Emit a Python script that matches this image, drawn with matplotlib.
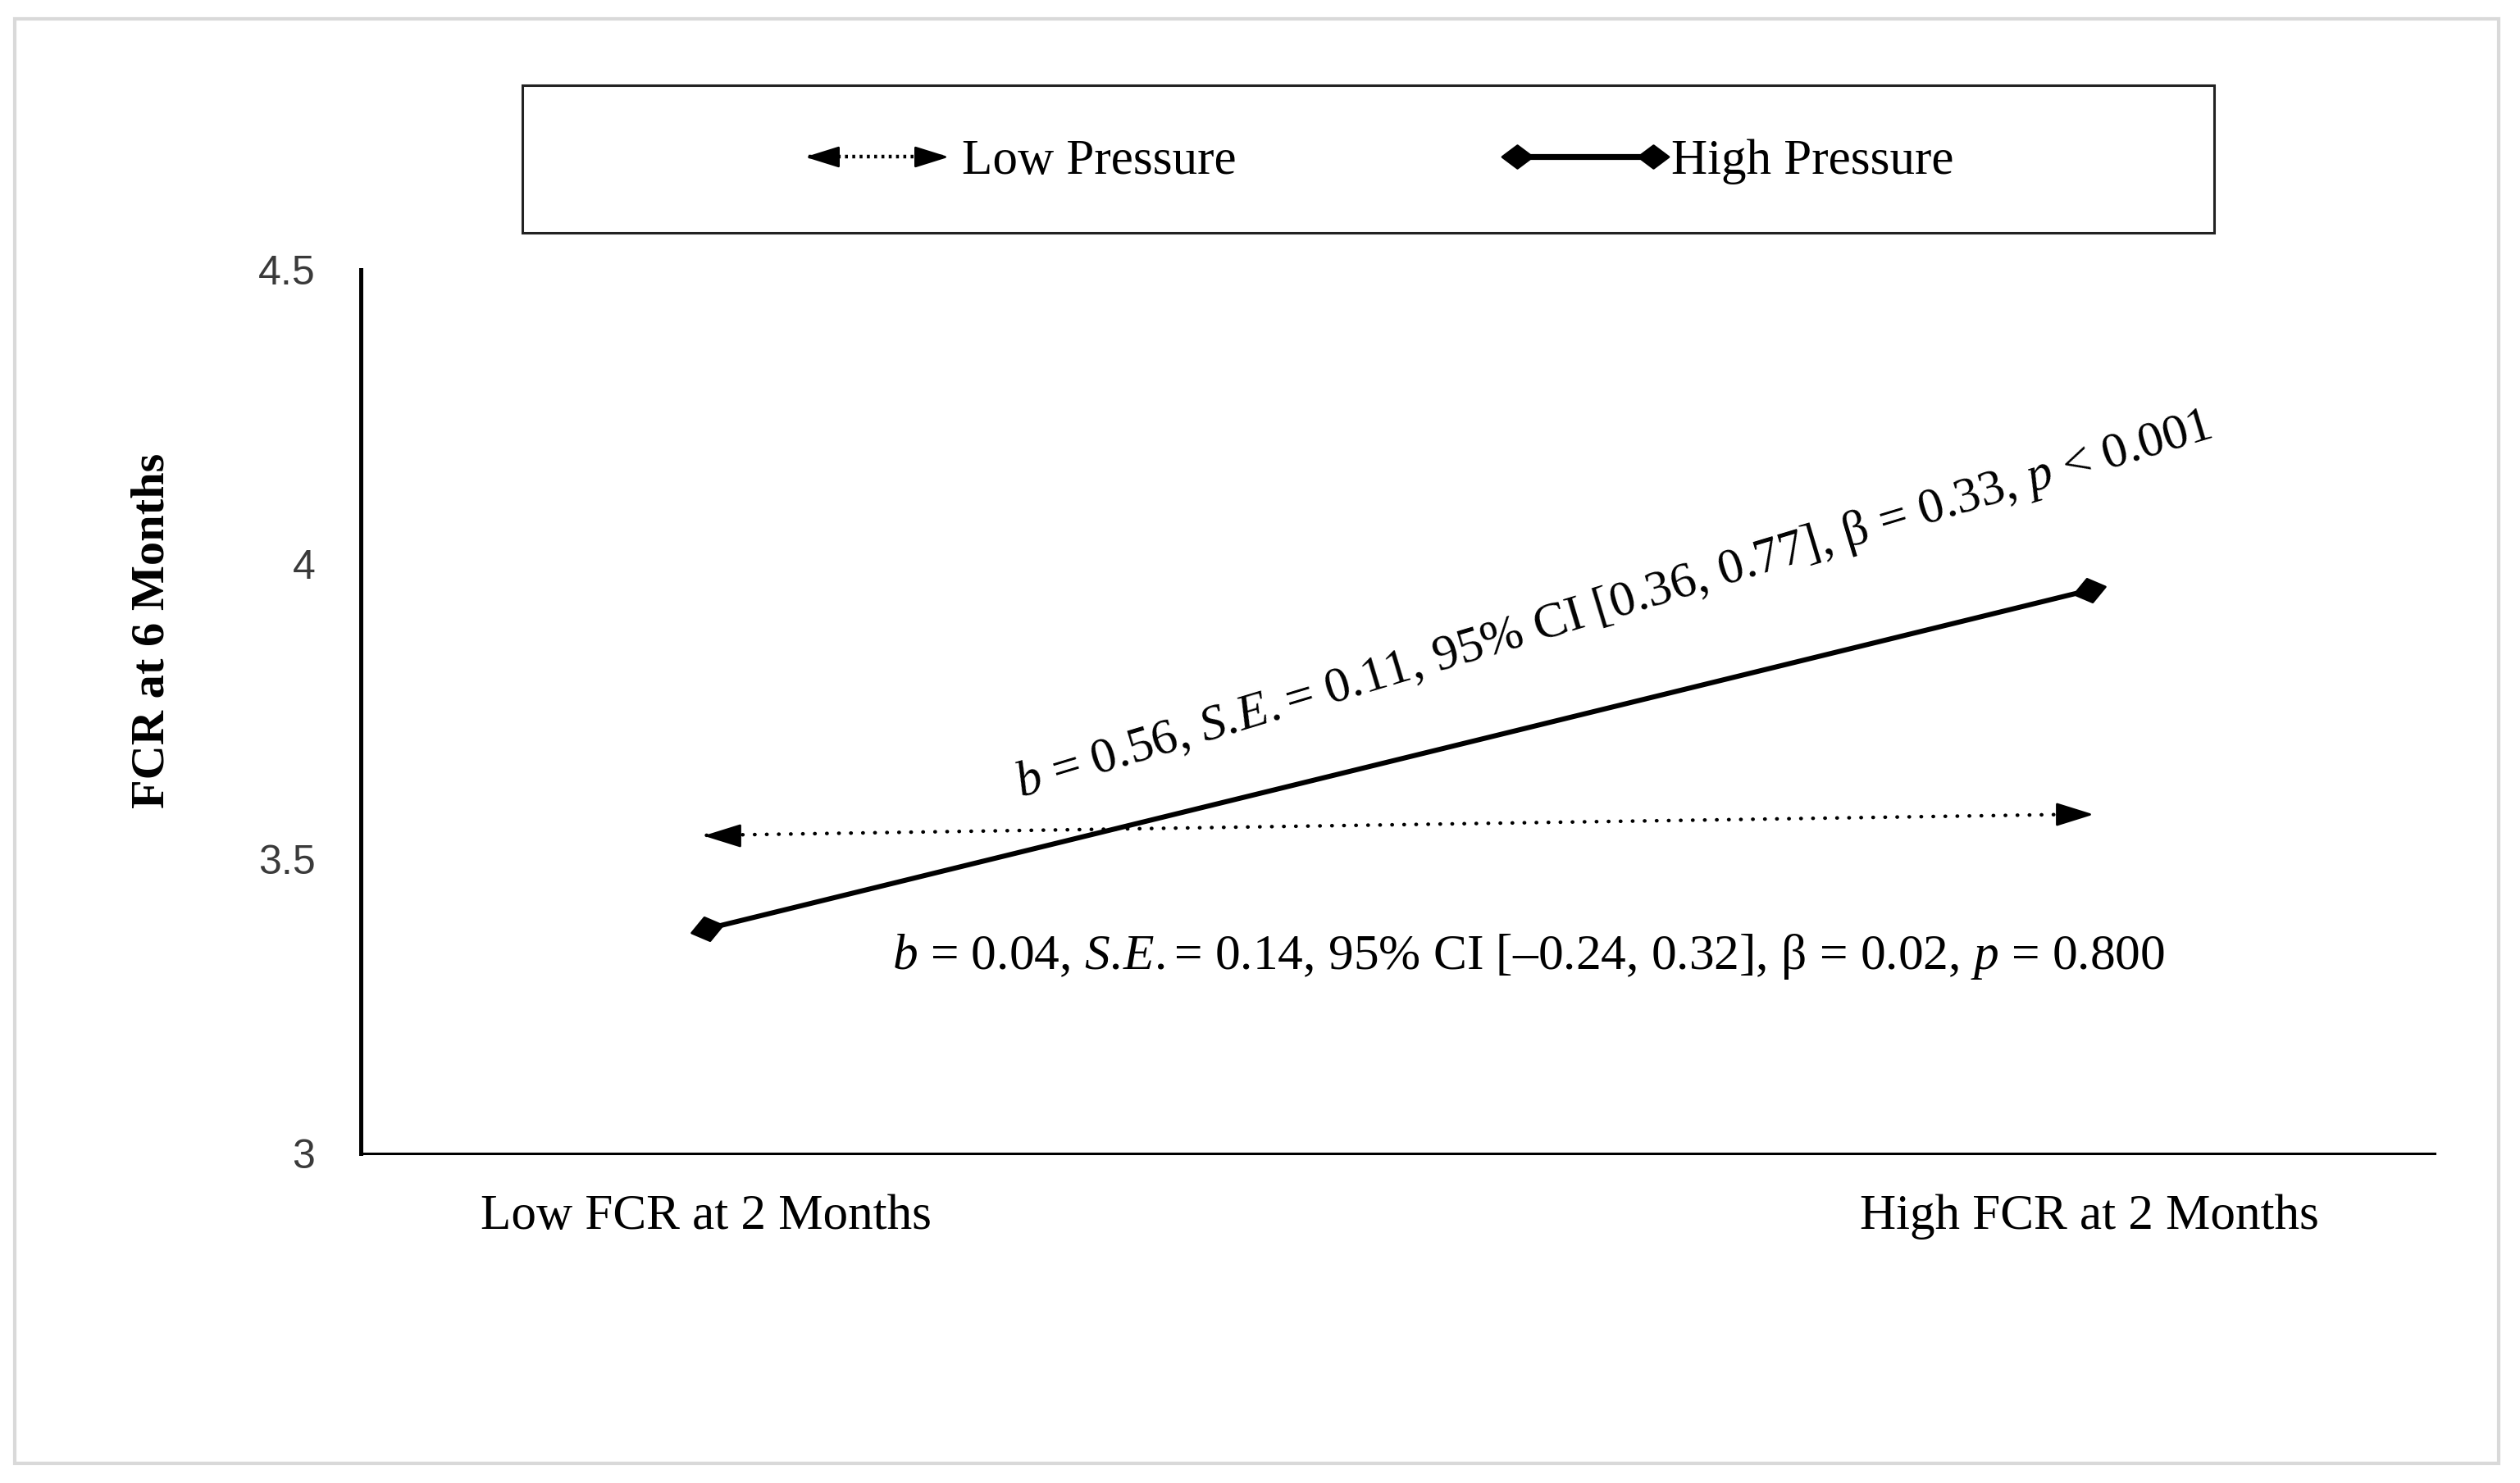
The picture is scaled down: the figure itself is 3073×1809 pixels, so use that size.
import numpy as np
import matplotlib
matplotlib.use("Agg")
import matplotlib.pyplot as plt
from matplotlib.path import Path
from matplotlib.markers import MarkerStyle
from matplotlib.transforms import Affine2D
from matplotlib.lines import Line2D
from matplotlib.patches import Rectangle
from matplotlib.legend_handler import HandlerBase

# ---------------- data ----------------
categories = ["Low FCR at 2 Months", "High FCR at 2 Months"]
low_pressure = [3.54, 3.576]
high_pressure = [3.381, 3.956]
series_names = ["Low Pressure", "High Pressure"]
y_ticks = [3, 3.5, 4, 4.5]
y_tick_labels = ["3", "3.5", "4", "4.5"]
y_label = "FCR at 6 Months"
high_note = (r"$\mathit{b}$ = 0.56, $\mathit{S.\!E.}$= 0.11, 95% CI [0.36, 0.77], "
             r"β = 0.33, $\mathit{p}$ < 0.001")
low_note = (r"$\mathit{b}$ = 0.04, $\mathit{S.\!E.}$= 0.14, 95% CI [–0.24, 0.32], "
            r"β = 0.02, $\mathit{p}$ = 0.800")

# ---------------- style ----------------
plt.rcParams['font.family'] = ['Liberation Serif', 'DejaVu Serif']
plt.rcParams['mathtext.fontset'] = 'custom'
plt.rcParams['mathtext.rm'] = 'Liberation Serif'
plt.rcParams['mathtext.it'] = 'Liberation Serif:italic'
plt.rcParams['mathtext.bf'] = 'Liberation Serif:bold'

W, H = 3073, 1809
DPI = 200
fig = plt.figure(figsize=(W / DPI, H / DPI), dpi=DPI)

# outer light frame
fig.patches.append(Rectangle((18 / W, 1 - 1785 / H), (3047 - 18) / W, (1785 - 23) / H,
                             transform=fig.transFigure, fill=False,
                             edgecolor='#d9d9d9', lw=1.5))

ax = fig.add_axes([440 / W, 1 - 1407 / H, (2969 - 440) / W, (1407 - 329) / H])
x = np.arange(len(categories))
ax.set_xlim(-0.25, 1.25)
ax.set_ylim(3, 4.5)

# marker shapes
left_arrow = Path([(0, 0), (1.6, 0.5), (1.6, -0.5), (0, 0)],
                  [Path.MOVETO, Path.LINETO, Path.LINETO, Path.CLOSEPOLY])
right_arrow = Path([(0, 0), (-1.6, 0.5), (-1.6, -0.5), (0, 0)],
                   [Path.MOVETO, Path.LINETO, Path.LINETO, Path.CLOSEPOLY])
diamond = Path([(-1, 0), (0, 0.75), (1, 0), (0, -0.75), (-1, 0)],
               [Path.MOVETO, Path.LINETO, Path.LINETO, Path.LINETO, Path.CLOSEPOLY])

dot_ls = (0, (0.1, 3.2))

# Low pressure: dotted line with outward arrowheads
l_low, = ax.plot(x, low_pressure, color='black', lw=1.6, ls=dot_ls,
                 dash_capstyle='round', label=series_names[0], zorder=3)
ax.plot(x[:1], low_pressure[:1], ls='none', marker=left_arrow, ms=28.8,
        color='black', zorder=4)
ax.plot(x[1:], low_pressure[1:], ls='none', marker=right_arrow, ms=28.8,
        color='black', zorder=4)

# High pressure: solid line with diamonds rotated along the line
p0 = ax.transData.transform((x[0], high_pressure[0]))
p1 = ax.transData.transform((x[1], high_pressure[1]))
ang = np.degrees(np.arctan2(p1[1] - p0[1], p1[0] - p0[0]))
rot_diamond = MarkerStyle(diamond, transform=Affine2D().rotate_deg(ang))
l_high, = ax.plot(x, high_pressure, color='black', lw=2.2, ls='-',
                  marker=rot_diamond, ms=14, label=series_names[1], zorder=3)

# axes styling
for s in ['top', 'right']:
    ax.spines[s].set_visible(False)
ax.spines['left'].set_linewidth(1.8)
ax.spines['bottom'].set_linewidth(1.1)
ax.set_xticks(x)
ax.set_xticklabels(categories, fontsize=22, color='black')
ax.set_yticks(y_ticks)
ax.set_yticklabels(y_tick_labels, fontsize=18, color='#3a3a3a',
                   family=['Liberation Sans', 'DejaVu Sans'])
ax.tick_params(axis='y', length=0, pad=20)
ax.tick_params(axis='x', length=0, pad=18)

fig.text(186 / W, 1 - 769 / H, y_label, rotation=90, ha='center', va='center',
         fontsize=21, fontweight='bold')

# annotations
ax.text(0.604, 0.62, high_note, transform=ax.transAxes, rotation=16.8,
        rotation_mode='anchor', ha='center', va='center', fontsize=22.1)
ax.text(0.563, 0.2087, low_note, transform=ax.transAxes,
        ha='center', va='baseline', fontsize=22.1)


# legend with custom handles
class PairHandler(HandlerBase):
    def __init__(self, ls, lw, mleft, mright, ms, **kw):
        super().__init__(**kw)
        self.ls, self.lw, self.mleft, self.mright, self.ms = ls, lw, mleft, mright, ms

    def create_artists(self, legend, orig_handle, xdescent, ydescent, width,
                       height, fontsize, trans):
        y = height / 2 - ydescent
        x0, x1 = -xdescent, width - xdescent
        line = Line2D([x0, x1], [y, y], color='black', lw=self.lw, ls=self.ls)
        a = Line2D([x0], [y], ls='none', marker=self.mleft, ms=self.ms, color='black')
        b = Line2D([x1], [y], ls='none', marker=self.mright, ms=self.ms, color='black')
        for art in (line, a, b):
            art.set_transform(trans)
        return [line, a, b]


plain_diamond = MarkerStyle(diamond)
leg = fig.legend(handles=[l_low, l_high], labels=series_names, ncol=2,
                 loc='center', bbox_to_anchor=(1684 / W, 1 - 197 / H),
                 frameon=False, fontsize=22, handlelength=2.72,
                 handletextpad=0.35, columnspacing=5.6,
                 handler_map={
                     l_low: PairHandler((0, (0.8, 1.2)), 1.6, left_arrow, right_arrow, 26),
                     l_high: PairHandler('-', 2.6, plain_diamond, plain_diamond, 13.3),
                 })
fig.patches.append(Rectangle((637 / W, 1 - 284 / H), (2700 - 637) / W, (284 - 104) / H,
                             transform=fig.transFigure, fill=False,
                             edgecolor='#222222', lw=1.1))

fig.savefig("out.png", dpi=DPI, facecolor='white')
